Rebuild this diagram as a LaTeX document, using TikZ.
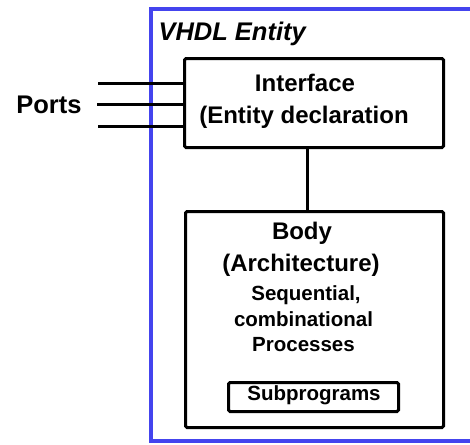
\documentclass[tikz,border=0pt]{standalone}
\usepackage{fontspec}
\setmainfont{Liberation Sans}
\begin{document}
\begin{tikzpicture}[x=1pt,y=-1pt,
  line width=3pt,
  blockbox/.style={draw=black, line width=3pt, rounded corners=1.5pt, inner sep=0pt, anchor=north west},
  bigtxt/.style={font=\fontsize{24}{28}\selectfont\bfseries, anchor=base, inner sep=0pt},
  smalltxt/.style={font=\fontsize{20.5}{24}\selectfont\bfseries, anchor=base, inner sep=0pt}
]
\definecolor{entityblue}{RGB}{68,68,238}
\useasboundingbox (0,0) rectangle (470,444);
\clip (0,0) rectangle (470,444);

% entity frame (open to the right)
\draw[entityblue, line width=3.5pt] (480,9) -- (151,9) -- (151,441) -- (480,441);
\node[font=\fontsize{25.5}{28}\selectfont\bfseries\itshape, anchor=base west, inner sep=0pt] (title) at (157,41) {VHDL Entity};

% interface block
\node[blockbox, minimum width=259pt, minimum height=89pt] (iface) at (183,57) {};
\node[bigtxt] (ifl1) at (305,91) {Interface};
\node[bigtxt] (ifl2) at (304,123) {(Entity declaration};

% body block
\node[blockbox, minimum width=258pt, minimum height=216pt] (body) at (184,210) {};
\node[bigtxt] (bl1) at (302,239) {Body};
\node[bigtxt] (bl2) at (301,271) {(Architecture)};
\node[smalltxt] (bl3) at (306,300) {Sequential,};
\node[smalltxt] (bl4) at (303.5,326) {combinational};
\node[smalltxt] (bl5) at (303.5,351) {Processes};

% subprograms block
\node[blockbox, minimum width=170pt, minimum height=29pt] (sub) at (227,381) {};
\node[smalltxt] (subl) at (314,400) {Subprograms};

% link between interface and body
\coordinate (link) at (307,0);
\draw (iface.south -| link) -- (body.north -| link);

% ports
\node[font=\fontsize{25.5}{28}\selectfont\bfseries, anchor=base, inner sep=0pt] (ports) at (49,113) {Ports};
\coordinate (p1) at (98,83);
\coordinate (p2) at (97,104);
\coordinate (p3) at (98,126);
\draw (p1) -- (p1 -| iface.west);
\draw (p2) -- (p2 -| iface.west);
\draw (p3) -- (p3 -| iface.west);
\end{tikzpicture}
\end{document}
